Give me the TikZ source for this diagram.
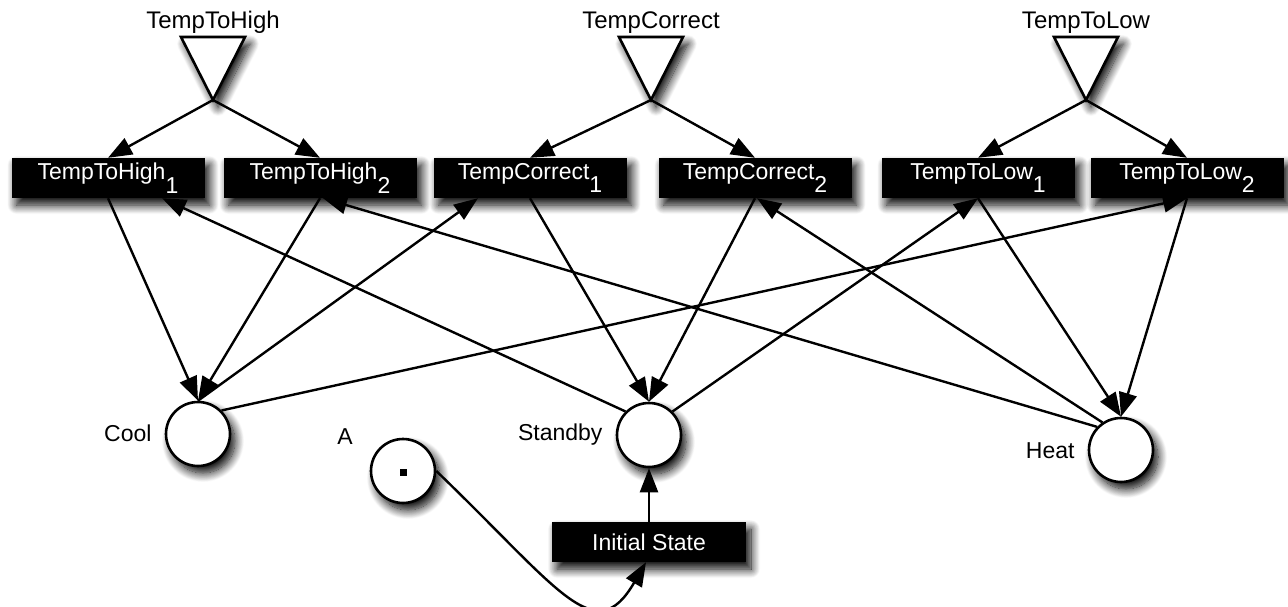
\documentclass[tikz,border=0pt]{standalone}
\usepackage{fontspec}
\setmainfont{Liberation Sans}
\usetikzlibrary{arrows.meta,shadows.blur}
% lowered index, set at full size as in the net editor
\newcommand\lowidx[1]{\raisebox{-0.6em}{#1}}
\begin{document}
\begin{tikzpicture}[x=1pt,y=-1pt,
  softshadow/.style={blur shadow={shadow xshift=5pt,shadow yshift=-7pt,
      shadow blur radius=9pt,shadow blur steps=14,shadow opacity=100}},
  trans/.style={softshadow,fill=black,text=white,minimum width=193pt,
      minimum height=40pt,inner sep=0pt,font=\fontsize{23}{27}\selectfont},
  place/.style={softshadow,circle,draw,fill=white,line width=2.6pt,
      minimum size=64pt,inner sep=0pt},
  trig/.style={softshadow,draw,fill=white,line width=2.6pt,line join=miter},
  lbl/.style={font=\fontsize{23}{27}\selectfont,inner sep=0pt},
  toplbl/.style={font=\fontsize{24}{28}\selectfont,inner sep=0pt,anchor=base},
  arr/.style={line width=2.4pt,draw=black,
      -{Triangle[length=24pt,width=18pt,fill=black]}},
]
\useasboundingbox (0,0) rectangle (1288,607);

% input triangles with their labels
\draw[trig] (181,37) -- (245,37) -- (213,100) -- cycle;
\coordinate (gh) at (213,100);
\node[toplbl] (ghl) at (213,29) {TempToHigh};
\draw[trig] (619,37) -- (683,37) -- (651,100) -- cycle;
\coordinate (gc) at (651,100);
\node[toplbl] (gcl) at (651,29) {TempCorrect};
\draw[trig] (1054,37) -- (1118,37) -- (1086,100) -- cycle;
\coordinate (gl) at (1086,100);
\node[toplbl] (gll) at (1086,29) {TempToLow};

% transitions
\node[trans] (th1) at (108,178) {TempToHigh\lowidx{1}};
\node[trans] (th2) at (320,178) {TempToHigh\lowidx{2}};
\node[trans] (tc1) at (530,178) {TempCorrect\lowidx{1}};
\node[trans] (tc2) at (755,178) {TempCorrect\lowidx{2}};
\node[trans] (tl1) at (978,178) {TempToLow\lowidx{1}};
\node[trans] (tl2) at (1187,178) {TempToLow\lowidx{2}};
\node[trans,minimum width=194pt] (init) at (649,542) {Initial State};

% places
\node[place] (cool) at (198,434) {};
\node[place] (standby) at (649,435) {};
\node[place] (heat) at (1121,450) {};
\node[place] (a) at (403,471) {};
\node[fill=black,minimum size=7pt,inner sep=0pt] (tok) at ([yshift=-1pt]a.center) {};

\node[lbl,anchor=east] (cooll) at ([xshift=-13pt,yshift=1pt]cool.west) {Cool};
\node[lbl,anchor=east] (standbyl) at ([xshift=-13pt]standby.west) {Standby};
\node[lbl,anchor=east] (heatl) at ([xshift=-13pt,yshift=-1pt]heat.west) {Heat};
\node[lbl] (al) at (345,437) {A};

% arcs
\draw[arr] (gh) -- (th1.north);
\draw[arr] (gh) -- (th2.north);
\draw[arr] (gc) -- (tc1.north);
\draw[arr] (gc) -- (tc2.north);
\draw[arr] (gl) -- (tl1.north);
\draw[arr] (gl) -- (tl2.north);

\draw[arr] (th1.south) -- (cool.north);
\draw[arr] (th2.south) -- (cool.north);
\draw[arr] (cool.north) -- ([xshift=-52pt]tc1.south);
\draw[arr] (cool.45) -- (tl2.south);

\draw[arr] (standby.135) -- ([xshift=54pt]th1.south);
\draw[arr] (tc1.south) -- (standby.north);
\draw[arr] (tc2.south) -- (standby.north);
\draw[arr] (standby.45) -- (tl1.south);

\draw[arr] (heat.136) -- ([xshift=3pt]th2.south);
\draw[arr] (heat.124) -- ([xshift=2pt]tc2.south);
\draw[arr] (tl1.south) -- (heat.north);
\draw[arr] (tl2.south) -- (heat.north);

\draw[arr] (init.north) -- (standby.south);
\draw[arr] (a.east) .. controls (560,590) and (595,650) .. ([xshift=-3pt]init.south);
\end{tikzpicture}
\end{document}
